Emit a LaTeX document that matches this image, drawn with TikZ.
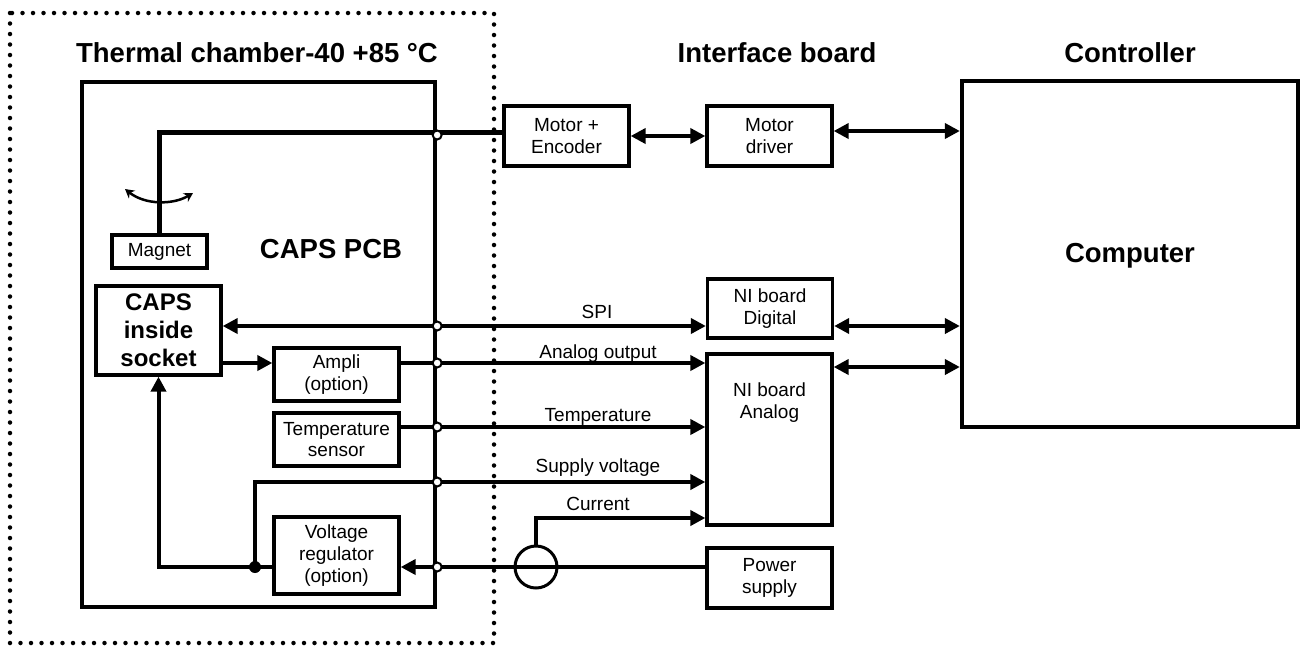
\documentclass[tikz,border=0pt]{standalone}
\usepackage{fontspec}
\setmainfont{Liberation Sans}
\usetikzlibrary{arrows.meta, positioning, calc}
\tikzset{
  boxA/.style={rectangle, draw, line width=3.3pt, fill=white, align=center,
               font=\fontsize{19}{21.7}\selectfont, inner sep=0pt, minimum width=125pt},
  boxBig/.style={rectangle, draw, line width=4.3pt, inner sep=0pt},
  head/.style={font=\fontsize{27.5}{30}\selectfont\bfseries, anchor=base},
  lblA/.style={font=\fontsize{19}{21.7}\selectfont, anchor=base},
  arrowS/.style={-{Triangle[length=15pt,width=15pt]}, line width=4pt},
  arrowD/.style={{Triangle[length=15pt,width=15pt]}-{Triangle[length=15pt,width=15pt]}, line width=4pt},
  arrowT/.style={{Stealth[length=9pt,width=10pt]}-{Stealth[length=9pt,width=10pt]}, line width=2.5pt},
  junc/.style={circle, draw, fill=white, line width=2pt, inner sep=0pt, minimum size=9pt},
}

\begin{document}
\begin{tikzpicture}[x=1pt, y=-1pt]
  \useasboundingbox (0,0) rectangle (1300,646);
  % thermal chamber
  \draw[line width=4.5pt, line cap=round, dash pattern=on 0pt off 10.5pt] (10,13) rectangle (494,643);
  \node[head] (tchamber) at (257,62) {Thermal chamber-40 +85 °C};
  \node[head] (tiface) at (777,62) {Interface board};
  \node[head] (tctrl) at (1130,62) {Controller};

  % CAPS PCB
  \node[boxBig, minimum width=353pt, minimum height=525pt] (pcb) at (258.5,344.5) {};
  \node[head] (pcblbl) at (331,258) {CAPS PCB};
  \node[boxA, minimum width=95pt, minimum height=33pt] (magnet) at (159.5,251.5) {Magnet};
  \node[boxA, font=\fontsize{24}{28}\selectfont\bfseries, minimum height=89pt] (socket) at (158.5,330.5) {CAPS\\inside\\socket};
  \node[boxA, minimum height=53pt] (ampli) at (336.5,374.5) {Ampli\\(option)};
  \node[boxA, minimum height=53pt] (tsens) at (336.5,439.5) {Temperature\\sensor};
  \node[boxA, minimum height=77pt] (vreg) at (336.5,555.5) {Voltage\\regulator\\(option)};

  % interface board
  \node[boxA, minimum height=60pt] (motenc) at (566.5,136) {Motor +\\Encoder};
  \node[boxA, minimum height=60pt] (motdrv) at (769.5,136) {Motor\\driver};
  \node[boxA, minimum height=59pt] (nidig) at (770,308.5) {NI board\\Digital};
  \node[boxA, minimum height=171pt] (niana) at (769.5,439.5) {};
  \node[boxA, draw=none, fill=none, anchor=north] (nianalbl) at ([yshift=-29pt]niana.north) {NI board\\Analog};
  \node[boxA, minimum height=60pt] (psu) at (769.5,578) {Power\\supply};
  \node[circle, draw, line width=3pt, minimum size=42pt, inner sep=0pt] (cs) at (536,567) {};

  % controller
  \node[boxBig, minimum width=336pt, minimum height=346pt] (pc) at (1130,254) {};
  \node[head] (pclbl) at (1130,262) {Computer};

  % motor
  \draw[line width=5pt] (magnet.north) |- ([yshift=4pt]motenc.west);
  \draw[arrowT] (125,189) .. controls (145,205) and (173,205) .. (193,193);
  \draw[arrowD] (motenc) -- (motdrv);
  \coordinate (mdr) at ([yshift=5pt]motdrv.east);
  \draw[arrowD] (mdr) -- (mdr -| pc.west);

  % signals
  \draw[arrowD] (socket.east |- 0,326) -- (nidig.west |- 0,326);
  \draw[arrowS] (socket.east |- 0,363) -- (ampli.west |- 0,363);
  \draw[arrowS] (ampli.east |- 0,363) -- (niana.west |- 0,363);
  \draw[arrowS] (tsens.east |- 0,427) -- (niana.west |- 0,427);
  \coordinate (tap) at (255,567);
  \draw[arrowS] (tap) |- (niana.west |- 0,482);
  \draw[arrowS] (cs.north) |- (niana.west |- 0,518);
  \draw[arrowS] (psu.west |- cs) -- (vreg.east |- cs);
  \draw[arrowS] (vreg.west |- cs) -| (socket.south);
  \fill (tap) circle (6pt);
  \draw[arrowD] (nidig.east |- 0,326) -- (pc.west |- 0,326);
  \draw[arrowD] (niana.east |- 0,367) -- (pc.west |- 0,367);

  \foreach \y in {135,326,363,427,482,567}
    \node[junc] (j\y) at (pcb.east |- 0,\y) {};

  \node[lblA] (lspi) at (597,318) {SPI};
  \node[lblA] (lao) at (598,358) {Analog output};
  \node[lblA] (ltemp) at (598,421) {Temperature};
  \node[lblA] (lsup) at (598,472) {Supply voltage};
  \node[lblA] (lcur) at (598,510) {Current};
\end{tikzpicture}
\end{document}
